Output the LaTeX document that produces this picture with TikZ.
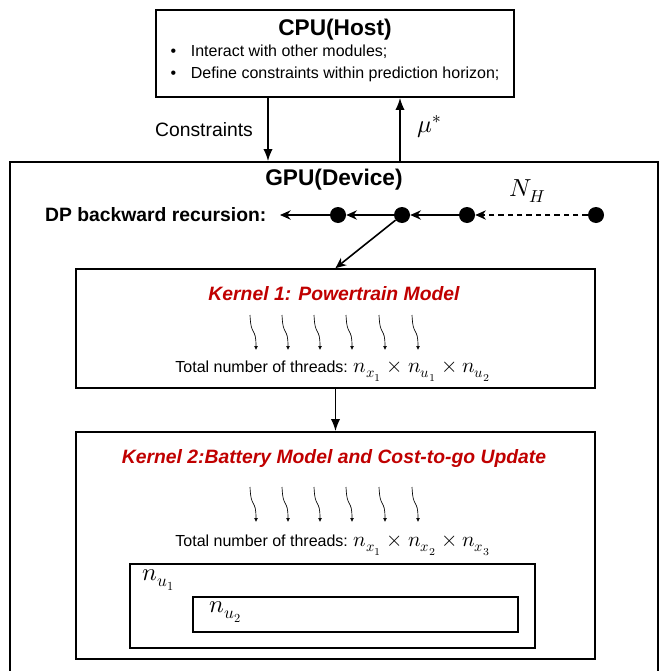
\documentclass[tikz,border=0pt]{standalone}
\usepackage{fontspec}
\usepackage{unicode-math}
\setmainfont{Liberation Sans}
\setmathfont{Latin Modern Math}
\usetikzlibrary{
  arrows.meta,
  fit,
  positioning
}
\definecolor{ink}{HTML}{000000}
\definecolor{kernelred}{HTML}{C00000}
\newcommand{\threadmath}[1]{{\fontsize{15.8}{18}\selectfont$#1$}}
\tikzset{
  block/.style={
    draw=ink,
    line width=1.3pt,
    inner sep=0pt
  },
  flow/.style={
    -{Latex[length=9pt,width=7pt]},
    line width=1.2pt,
    draw=ink
  },
  recur/.style={
    -{Stealth[length=8pt,width=7pt]},
    line width=1.2pt,
    draw=ink
  },
  stage/.style={
    circle,
    fill=ink,
    inner sep=0pt,
    minimum size=12pt
  },
  thread/.style={
    -{Latex[length=3pt,width=3pt]},
    line width=0.5pt
  },
  heading/.style={
    font=\fontsize{17}{20}\selectfont\bfseries
  },
  kerneltitle/.style={
    font=\fontsize{14.5}{17}\selectfont\bfseries\itshape,
    text=kernelred
  },
  tag/.style={
    font=\fontsize{14.5}{17}\selectfont,
    inner sep=1pt
  },
  mathtag/.style={
    font=\fontsize{18.5}{21}\selectfont,
    inner sep=1pt
  },
  note/.style={
    font=\fontsize{12}{14}\selectfont,
    inner sep=1pt
  }
}

\begin{document}
\begin{tikzpicture}[x=0.75pt,y=-0.75pt]
  \clip (0,0) rectangle (662,671);

  % host side
  \node[block, fit={(156,10) (514,97)}] (cpu) {};
  \node[heading] (cputitle) at (335,30) {CPU(Host)};
  \node[note, anchor=west] (item1) at (169,52)
    {\textbullet\hspace{11pt}Interact with other modules;};
  \node[note, anchor=west] (item2) at (169,74)
    {\textbullet\hspace{11pt}Define constraints within prediction horizon;};

  % device side
  \node[block, fit={(10,162) (658,700)}] (gpu) {};
  \node[heading] (gputitle) at (334,180) {GPU(Device)};

  \coordinate (down) at (268,0);
  \coordinate (up) at (400,0);
  \draw[flow] (cpu.south -| down) -- (gpu.north -| down);
  \draw[flow] (gpu.north -| up) -- (cpu.south -| up);
  \node[tag] (constr) at (204,130) {Constraints};
  \node[mathtag] (mu) at (430,127) {$\mu^*$};

  % backward recursion
  \node[tag, font=\fontsize{14.5}{17}\selectfont\bfseries, anchor=east]
    (dp) at (268,215) {DP backward recursion:};
  \foreach \k/\xpos in {1/338, 2/402, 3/467, 4/596}{
    \node[stage] (s\k) at (\xpos,215) {};
  }
  \coordinate (dpend) at (280,215);
  \draw[recur] (s1) -- (dpend);
  \draw[recur] (s2) -- (s1);
  \draw[recur] (s3) -- (s2);
  \draw[recur, line width=0.8pt, dash pattern=on 4pt off 3pt] (s4) -- (s3);
  \node[mathtag] (nh) at (528,191) {$N_H$};

  % kernel 1
  \node[block, fit={(76,269) (595,388)}] (k1) {};
  \node[kerneltitle] (k1title) at (334,294) {Kernel 1: Powertrain Model};
  \foreach \x in {256,288,320,352,385,418}{
    \draw[thread] (\x-6,315) .. controls (\x-5,338) and (\x,326) .. (\x,350);
  }
  \node[note] (k1threads) at (333,371)
    {Total number of threads: \threadmath{n_{x_1}\times n_{u_1}\times n_{u_2}}};
  \draw[recur] (s2) -- (k1.north);

  % kernel 2
  \node[block, fit={(76,432) (595,659)}] (k2) {};
  \node[kerneltitle] (k2title) at (334,458)
    {Kernel 2:Battery Model and Cost-to-go Update};
  \foreach \x in {256,288,320,352,385,418}{
    \draw[thread] (\x-6,487) .. controls (\x-5,510) and (\x,498) .. (\x,522);
  }
  \node[note] (k2threads) at (333,545)
    {Total number of threads: \threadmath{n_{x_1}\times n_{x_2}\times n_{x_3}}};
  \draw[flow] (k1.south) -- (k2.north);

  % nested loops
  \node[block, line width=1pt, fit={(130,564) (535,648)}] (loop1) {};
  \node[mathtag] (nu1) at (159,580) {$n_{u_1}$};
  \node[block, line width=1pt, fit={(193,597) (518,632)}] (loop2) {};
  \node[mathtag] (nu2) at (226,612) {$n_{u_2}$};
\end{tikzpicture}
\end{document}
